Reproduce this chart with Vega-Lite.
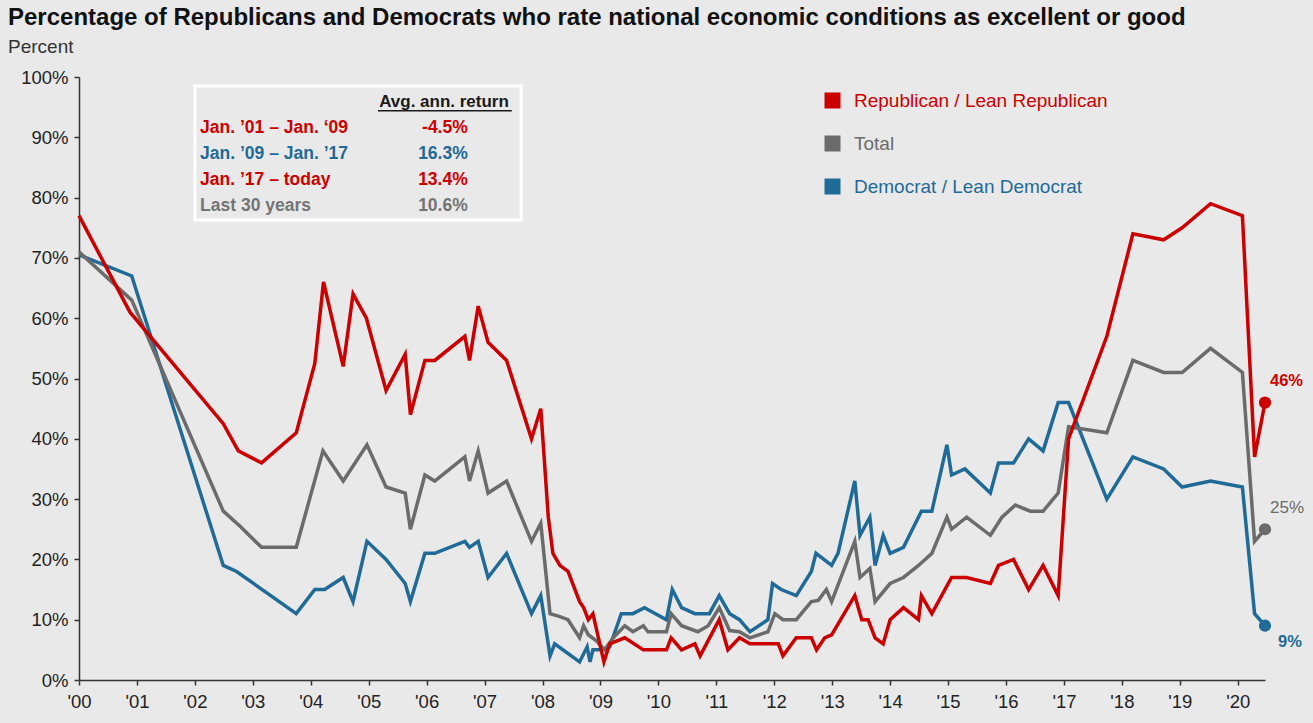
{
 "$schema": "https://vega.github.io/schema/vega-lite/v6.json",
 "width": 1186,
 "height": 603,
 "autosize": {"type": "none"},
 "padding": {"left": 79, "top": 77, "right": 48, "bottom": 43},
 "background": "#e9e9e9",
 "config": {"view": {"stroke": null}, "font": "Liberation Sans"},
 "title": {
  "text": "Percentage of Republicans and Democrats who rate national economic conditions as excellent or good",
  "subtitle": "Percent",
  "anchor": "start",
  "frame": "group",
  "dx": -71,
  "font": "Liberation Sans",
  "fontSize": 24,
  "fontWeight": "bold",
  "color": "#111111",
  "subtitleFont": "Liberation Sans",
  "subtitleFontSize": 19,
  "subtitleColor": "#333333",
  "subtitlePadding": 8,
  "offset": 11
 },
 "datasets": {
  "lines": [
   {"series": "Democrat / Lean Democrat", "date": 2000.00, "v": 70.5},
   {"series": "Democrat / Lean Democrat", "date": 2000.91, "v": 67},
   {"series": "Democrat / Lean Democrat", "date": 2002.49, "v": 19},
   {"series": "Democrat / Lean Democrat", "date": 2002.72, "v": 18},
   {"series": "Democrat / Lean Democrat", "date": 2003.75, "v": 11},
   {"series": "Democrat / Lean Democrat", "date": 2004.07, "v": 15},
   {"series": "Democrat / Lean Democrat", "date": 2004.24, "v": 15},
   {"series": "Democrat / Lean Democrat", "date": 2004.56, "v": 17},
   {"series": "Democrat / Lean Democrat", "date": 2004.73, "v": 13},
   {"series": "Democrat / Lean Democrat", "date": 2004.97, "v": 23},
   {"series": "Democrat / Lean Democrat", "date": 2005.30, "v": 20},
   {"series": "Democrat / Lean Democrat", "date": 2005.63, "v": 16},
   {"series": "Democrat / Lean Democrat", "date": 2005.72, "v": 13},
   {"series": "Democrat / Lean Democrat", "date": 2005.97, "v": 21},
   {"series": "Democrat / Lean Democrat", "date": 2006.14, "v": 21},
   {"series": "Democrat / Lean Democrat", "date": 2006.66, "v": 23},
   {"series": "Democrat / Lean Democrat", "date": 2006.74, "v": 22},
   {"series": "Democrat / Lean Democrat", "date": 2006.89, "v": 23},
   {"series": "Democrat / Lean Democrat", "date": 2007.06, "v": 17},
   {"series": "Democrat / Lean Democrat", "date": 2007.38, "v": 21},
   {"series": "Democrat / Lean Democrat", "date": 2007.81, "v": 11},
   {"series": "Democrat / Lean Democrat", "date": 2007.97, "v": 14},
   {"series": "Democrat / Lean Democrat", "date": 2008.13, "v": 4},
   {"series": "Democrat / Lean Democrat", "date": 2008.21, "v": 6},
   {"series": "Democrat / Lean Democrat", "date": 2008.64, "v": 3},
   {"series": "Democrat / Lean Democrat", "date": 2008.77, "v": 5.5},
   {"series": "Democrat / Lean Democrat", "date": 2008.82, "v": 3},
   {"series": "Democrat / Lean Democrat", "date": 2008.87, "v": 5},
   {"series": "Democrat / Lean Democrat", "date": 2008.99, "v": 5},
   {"series": "Democrat / Lean Democrat", "date": 2009.16, "v": 5.5},
   {"series": "Democrat / Lean Democrat", "date": 2009.36, "v": 11},
   {"series": "Democrat / Lean Democrat", "date": 2009.56, "v": 11},
   {"series": "Democrat / Lean Democrat", "date": 2009.76, "v": 12},
   {"series": "Democrat / Lean Democrat", "date": 2010.14, "v": 10},
   {"series": "Democrat / Lean Democrat", "date": 2010.24, "v": 15},
   {"series": "Democrat / Lean Democrat", "date": 2010.40, "v": 12},
   {"series": "Democrat / Lean Democrat", "date": 2010.63, "v": 11},
   {"series": "Democrat / Lean Democrat", "date": 2010.88, "v": 11},
   {"series": "Democrat / Lean Democrat", "date": 2011.05, "v": 14},
   {"series": "Democrat / Lean Democrat", "date": 2011.23, "v": 11},
   {"series": "Democrat / Lean Democrat", "date": 2011.40, "v": 10},
   {"series": "Democrat / Lean Democrat", "date": 2011.58, "v": 8},
   {"series": "Democrat / Lean Democrat", "date": 2011.89, "v": 10},
   {"series": "Democrat / Lean Democrat", "date": 2011.97, "v": 16},
   {"series": "Democrat / Lean Democrat", "date": 2012.12, "v": 15},
   {"series": "Democrat / Lean Democrat", "date": 2012.38, "v": 14},
   {"series": "Democrat / Lean Democrat", "date": 2012.64, "v": 18},
   {"series": "Democrat / Lean Democrat", "date": 2012.72, "v": 21},
   {"series": "Democrat / Lean Democrat", "date": 2012.99, "v": 19},
   {"series": "Democrat / Lean Democrat", "date": 2013.10, "v": 21},
   {"series": "Democrat / Lean Democrat", "date": 2013.39, "v": 33},
   {"series": "Democrat / Lean Democrat", "date": 2013.48, "v": 24},
   {"series": "Democrat / Lean Democrat", "date": 2013.65, "v": 27},
   {"series": "Democrat / Lean Democrat", "date": 2013.74, "v": 19},
   {"series": "Democrat / Lean Democrat", "date": 2013.88, "v": 24},
   {"series": "Democrat / Lean Democrat", "date": 2014.00, "v": 21},
   {"series": "Democrat / Lean Democrat", "date": 2014.23, "v": 22},
   {"series": "Democrat / Lean Democrat", "date": 2014.54, "v": 28},
   {"series": "Democrat / Lean Democrat", "date": 2014.72, "v": 28},
   {"series": "Democrat / Lean Democrat", "date": 2014.98, "v": 39},
   {"series": "Democrat / Lean Democrat", "date": 2015.06, "v": 34},
   {"series": "Democrat / Lean Democrat", "date": 2015.29, "v": 35},
   {"series": "Democrat / Lean Democrat", "date": 2015.73, "v": 31},
   {"series": "Democrat / Lean Democrat", "date": 2015.87, "v": 36},
   {"series": "Democrat / Lean Democrat", "date": 2016.13, "v": 36},
   {"series": "Democrat / Lean Democrat", "date": 2016.39, "v": 40},
   {"series": "Democrat / Lean Democrat", "date": 2016.64, "v": 38},
   {"series": "Democrat / Lean Democrat", "date": 2016.90, "v": 46},
   {"series": "Democrat / Lean Democrat", "date": 2017.08, "v": 46},
   {"series": "Democrat / Lean Democrat", "date": 2017.74, "v": 30},
   {"series": "Democrat / Lean Democrat", "date": 2018.19, "v": 37},
   {"series": "Democrat / Lean Democrat", "date": 2018.72, "v": 35},
   {"series": "Democrat / Lean Democrat", "date": 2019.04, "v": 32},
   {"series": "Democrat / Lean Democrat", "date": 2019.53, "v": 33},
   {"series": "Democrat / Lean Democrat", "date": 2020.08, "v": 32},
   {"series": "Democrat / Lean Democrat", "date": 2020.29, "v": 11},
   {"series": "Democrat / Lean Democrat", "date": 2020.47, "v": 9},

   {"series": "Total", "date": 2000.00, "v": 71},
   {"series": "Total", "date": 2000.91, "v": 63},
   {"series": "Total", "date": 2002.49, "v": 28},
   {"series": "Total", "date": 2002.78, "v": 25.5},
   {"series": "Total", "date": 2003.15, "v": 22},
   {"series": "Total", "date": 2003.75, "v": 22},
   {"series": "Total", "date": 2004.21, "v": 38},
   {"series": "Total", "date": 2004.56, "v": 33},
   {"series": "Total", "date": 2004.97, "v": 39},
   {"series": "Total", "date": 2005.30, "v": 32},
   {"series": "Total", "date": 2005.63, "v": 31},
   {"series": "Total", "date": 2005.72, "v": 25},
   {"series": "Total", "date": 2005.97, "v": 34},
   {"series": "Total", "date": 2006.14, "v": 33},
   {"series": "Total", "date": 2006.66, "v": 37},
   {"series": "Total", "date": 2006.74, "v": 33},
   {"series": "Total", "date": 2006.89, "v": 38},
   {"series": "Total", "date": 2007.06, "v": 31},
   {"series": "Total", "date": 2007.38, "v": 33},
   {"series": "Total", "date": 2007.81, "v": 23},
   {"series": "Total", "date": 2007.97, "v": 26},
   {"series": "Total", "date": 2008.13, "v": 11},
   {"series": "Total", "date": 2008.30, "v": 10.5},
   {"series": "Total", "date": 2008.44, "v": 10},
   {"series": "Total", "date": 2008.64, "v": 7},
   {"series": "Total", "date": 2008.71, "v": 9},
   {"series": "Total", "date": 2008.79, "v": 7.5},
   {"series": "Total", "date": 2008.93, "v": 6.5},
   {"series": "Total", "date": 2009.07, "v": 5},
   {"series": "Total", "date": 2009.22, "v": 7},
   {"series": "Total", "date": 2009.42, "v": 9},
   {"series": "Total", "date": 2009.56, "v": 8},
   {"series": "Total", "date": 2009.74, "v": 9},
   {"series": "Total", "date": 2009.82, "v": 8},
   {"series": "Total", "date": 2010.14, "v": 8},
   {"series": "Total", "date": 2010.22, "v": 11},
   {"series": "Total", "date": 2010.40, "v": 9},
   {"series": "Total", "date": 2010.68, "v": 8},
   {"series": "Total", "date": 2010.86, "v": 9},
   {"series": "Total", "date": 2011.05, "v": 12},
   {"series": "Total", "date": 2011.23, "v": 8.2},
   {"series": "Total", "date": 2011.40, "v": 8},
   {"series": "Total", "date": 2011.58, "v": 7},
   {"series": "Total", "date": 2011.89, "v": 8},
   {"series": "Total", "date": 2012.01, "v": 11},
   {"series": "Total", "date": 2012.15, "v": 10},
   {"series": "Total", "date": 2012.38, "v": 10},
   {"series": "Total", "date": 2012.64, "v": 13},
   {"series": "Total", "date": 2012.76, "v": 13.2},
   {"series": "Total", "date": 2012.90, "v": 15},
   {"series": "Total", "date": 2012.99, "v": 13},
   {"series": "Total", "date": 2013.39, "v": 23},
   {"series": "Total", "date": 2013.48, "v": 17},
   {"series": "Total", "date": 2013.65, "v": 18.5},
   {"series": "Total", "date": 2013.74, "v": 13},
   {"series": "Total", "date": 2014.00, "v": 16},
   {"series": "Total", "date": 2014.23, "v": 17},
   {"series": "Total", "date": 2014.49, "v": 19},
   {"series": "Total", "date": 2014.72, "v": 21},
   {"series": "Total", "date": 2014.98, "v": 27},
   {"series": "Total", "date": 2015.06, "v": 25},
   {"series": "Total", "date": 2015.32, "v": 27},
   {"series": "Total", "date": 2015.73, "v": 24},
   {"series": "Total", "date": 2015.93, "v": 27},
   {"series": "Total", "date": 2016.16, "v": 29},
   {"series": "Total", "date": 2016.42, "v": 28},
   {"series": "Total", "date": 2016.64, "v": 28},
   {"series": "Total", "date": 2016.90, "v": 31},
   {"series": "Total", "date": 2017.08, "v": 42},
   {"series": "Total", "date": 2017.74, "v": 41},
   {"series": "Total", "date": 2018.19, "v": 53},
   {"series": "Total", "date": 2018.72, "v": 51},
   {"series": "Total", "date": 2019.04, "v": 51},
   {"series": "Total", "date": 2019.53, "v": 55},
   {"series": "Total", "date": 2020.08, "v": 51},
   {"series": "Total", "date": 2020.29, "v": 23},
   {"series": "Total", "date": 2020.47, "v": 25},

   {"series": "Republican / Lean Republican", "date": 2000.00, "v": 77},
   {"series": "Republican / Lean Republican", "date": 2000.88, "v": 61},
   {"series": "Republican / Lean Republican", "date": 2002.49, "v": 42.5},
   {"series": "Republican / Lean Republican", "date": 2002.75, "v": 38},
   {"series": "Republican / Lean Republican", "date": 2003.15, "v": 36},
   {"series": "Republican / Lean Republican", "date": 2003.75, "v": 41},
   {"series": "Republican / Lean Republican", "date": 2004.07, "v": 52.5},
   {"series": "Republican / Lean Republican", "date": 2004.22, "v": 66},
   {"series": "Republican / Lean Republican", "date": 2004.56, "v": 52},
   {"series": "Republican / Lean Republican", "date": 2004.73, "v": 64},
   {"series": "Republican / Lean Republican", "date": 2004.96, "v": 60},
   {"series": "Republican / Lean Republican", "date": 2005.30, "v": 48},
   {"series": "Republican / Lean Republican", "date": 2005.63, "v": 54},
   {"series": "Republican / Lean Republican", "date": 2005.72, "v": 44},
   {"series": "Republican / Lean Republican", "date": 2005.97, "v": 53},
   {"series": "Republican / Lean Republican", "date": 2006.14, "v": 53},
   {"series": "Republican / Lean Republican", "date": 2006.66, "v": 57},
   {"series": "Republican / Lean Republican", "date": 2006.74, "v": 53},
   {"series": "Republican / Lean Republican", "date": 2006.89, "v": 62},
   {"series": "Republican / Lean Republican", "date": 2007.06, "v": 56},
   {"series": "Republican / Lean Republican", "date": 2007.38, "v": 53},
   {"series": "Republican / Lean Republican", "date": 2007.81, "v": 40},
   {"series": "Republican / Lean Republican", "date": 2007.97, "v": 45},
   {"series": "Republican / Lean Republican", "date": 2008.10, "v": 27},
   {"series": "Republican / Lean Republican", "date": 2008.18, "v": 21},
   {"series": "Republican / Lean Republican", "date": 2008.30, "v": 19},
   {"series": "Republican / Lean Republican", "date": 2008.44, "v": 18},
   {"series": "Republican / Lean Republican", "date": 2008.64, "v": 13},
   {"series": "Republican / Lean Republican", "date": 2008.71, "v": 12},
   {"series": "Republican / Lean Republican", "date": 2008.79, "v": 10},
   {"series": "Republican / Lean Republican", "date": 2008.87, "v": 11},
   {"series": "Republican / Lean Republican", "date": 2009.06, "v": 3},
   {"series": "Republican / Lean Republican", "date": 2009.16, "v": 6},
   {"series": "Republican / Lean Republican", "date": 2009.42, "v": 7},
   {"series": "Republican / Lean Republican", "date": 2009.74, "v": 5},
   {"series": "Republican / Lean Republican", "date": 2010.14, "v": 5},
   {"series": "Republican / Lean Republican", "date": 2010.22, "v": 7},
   {"series": "Republican / Lean Republican", "date": 2010.40, "v": 5},
   {"series": "Republican / Lean Republican", "date": 2010.63, "v": 6},
   {"series": "Republican / Lean Republican", "date": 2010.72, "v": 4},
   {"series": "Republican / Lean Republican", "date": 2011.05, "v": 10},
   {"series": "Republican / Lean Republican", "date": 2011.20, "v": 5},
   {"series": "Republican / Lean Republican", "date": 2011.40, "v": 7},
   {"series": "Republican / Lean Republican", "date": 2011.58, "v": 6},
   {"series": "Republican / Lean Republican", "date": 2012.07, "v": 6},
   {"series": "Republican / Lean Republican", "date": 2012.15, "v": 4},
   {"series": "Republican / Lean Republican", "date": 2012.38, "v": 7},
   {"series": "Republican / Lean Republican", "date": 2012.64, "v": 7},
   {"series": "Republican / Lean Republican", "date": 2012.73, "v": 5},
   {"series": "Republican / Lean Republican", "date": 2012.87, "v": 7},
   {"series": "Republican / Lean Republican", "date": 2012.99, "v": 7.5},
   {"series": "Republican / Lean Republican", "date": 2013.39, "v": 14},
   {"series": "Republican / Lean Republican", "date": 2013.51, "v": 10},
   {"series": "Republican / Lean Republican", "date": 2013.62, "v": 10},
   {"series": "Republican / Lean Republican", "date": 2013.74, "v": 7},
   {"series": "Republican / Lean Republican", "date": 2013.88, "v": 6},
   {"series": "Republican / Lean Republican", "date": 2014.00, "v": 10},
   {"series": "Republican / Lean Republican", "date": 2014.23, "v": 12},
   {"series": "Republican / Lean Republican", "date": 2014.49, "v": 10},
   {"series": "Republican / Lean Republican", "date": 2014.54, "v": 14},
   {"series": "Republican / Lean Republican", "date": 2014.72, "v": 11},
   {"series": "Republican / Lean Republican", "date": 2015.06, "v": 17},
   {"series": "Republican / Lean Republican", "date": 2015.32, "v": 17},
   {"series": "Republican / Lean Republican", "date": 2015.73, "v": 16},
   {"series": "Republican / Lean Republican", "date": 2015.87, "v": 19},
   {"series": "Republican / Lean Republican", "date": 2016.13, "v": 20},
   {"series": "Republican / Lean Republican", "date": 2016.39, "v": 15},
   {"series": "Republican / Lean Republican", "date": 2016.64, "v": 19},
   {"series": "Republican / Lean Republican", "date": 2016.90, "v": 14},
   {"series": "Republican / Lean Republican", "date": 2017.08, "v": 40},
   {"series": "Republican / Lean Republican", "date": 2017.74, "v": 57},
   {"series": "Republican / Lean Republican", "date": 2018.19, "v": 74},
   {"series": "Republican / Lean Republican", "date": 2018.72, "v": 73},
   {"series": "Republican / Lean Republican", "date": 2019.04, "v": 75},
   {"series": "Republican / Lean Republican", "date": 2019.53, "v": 79},
   {"series": "Republican / Lean Republican", "date": 2020.08, "v": 77},
   {"series": "Republican / Lean Republican", "date": 2020.29, "v": 37},
   {"series": "Republican / Lean Republican", "date": 2020.47, "v": 46}
  ],
  "table": [
   {"row": 1, "period": "Jan. ’01 – Jan. ‘09", "ret": "-4.5%"},
   {"row": 2, "period": "Jan. ’09 – Jan. ’17", "ret": "16.3%"},
   {"row": 3, "period": "Jan. ’17 – today", "ret": "13.4%"},
   {"row": 4, "period": "Last 30 years", "ret": "10.6%"}
  ]
 },
 "layer": [
  {
   "data": {"values": [{}]},
   "mark": {"type": "rect", "filled": false, "stroke": "#ffffff", "strokeWidth": 3},
   "encoding": {
    "x": {"datum": 2002.0, "type": "quantitative"},
    "x2": {"datum": 2007.63},
    "y": {"datum": 98.5, "type": "quantitative"},
    "y2": {"datum": 76.3}
   }
  },
  {
   "data": {"values": [{"h": "Avg. ann. return"}]},
   "mark": {"type": "text", "align": "center", "baseline": "middle", "fontSize": 17, "fontWeight": "bold", "color": "#1a1a1a", "font": "Liberation Sans"},
   "encoding": {
    "x": {"datum": 2006.30, "type": "quantitative"},
    "y": {"datum": 95.9, "type": "quantitative"},
    "text": {"field": "h"}
   }
  },
  {
   "data": {"values": [{}]},
   "mark": {"type": "rule", "color": "#1a1a1a", "strokeWidth": 1.3},
   "encoding": {
    "x": {"datum": 2005.16, "type": "quantitative"},
    "x2": {"datum": 2007.47},
    "y": {"datum": 94.4, "type": "quantitative"}
   }
  },
  {
   "data": {"name": "table"},
   "transform": [{"filter": "datum.row == 1"}],
   "layer": [
    {"mark": {"type": "text", "align": "left", "baseline": "middle", "fontSize": 17.5, "fontWeight": "bold", "color": "#cc0000", "font": "Liberation Sans"},
     "encoding": {"x": {"datum": 2002.09, "type": "quantitative"}, "y": {"datum": 91.5, "type": "quantitative"}, "text": {"field": "period"}}},
    {"mark": {"type": "text", "align": "right", "baseline": "middle", "fontSize": 17.5, "fontWeight": "bold", "color": "#cc0000", "font": "Liberation Sans"},
     "encoding": {"x": {"datum": 2006.71, "type": "quantitative"}, "y": {"datum": 91.5, "type": "quantitative"}, "text": {"field": "ret"}}}
   ]
  },
  {
   "data": {"name": "table"},
   "transform": [{"filter": "datum.row == 2"}],
   "layer": [
    {"mark": {"type": "text", "align": "left", "baseline": "middle", "fontSize": 17.5, "fontWeight": "bold", "color": "#1f6a96", "font": "Liberation Sans"},
     "encoding": {"x": {"datum": 2002.09, "type": "quantitative"}, "y": {"datum": 87.2, "type": "quantitative"}, "text": {"field": "period"}}},
    {"mark": {"type": "text", "align": "right", "baseline": "middle", "fontSize": 17.5, "fontWeight": "bold", "color": "#1f6a96", "font": "Liberation Sans"},
     "encoding": {"x": {"datum": 2006.71, "type": "quantitative"}, "y": {"datum": 87.2, "type": "quantitative"}, "text": {"field": "ret"}}}
   ]
  },
  {
   "data": {"name": "table"},
   "transform": [{"filter": "datum.row == 3"}],
   "layer": [
    {"mark": {"type": "text", "align": "left", "baseline": "middle", "fontSize": 17.5, "fontWeight": "bold", "color": "#cc0000", "font": "Liberation Sans"},
     "encoding": {"x": {"datum": 2002.09, "type": "quantitative"}, "y": {"datum": 82.9, "type": "quantitative"}, "text": {"field": "period"}}},
    {"mark": {"type": "text", "align": "right", "baseline": "middle", "fontSize": 17.5, "fontWeight": "bold", "color": "#cc0000", "font": "Liberation Sans"},
     "encoding": {"x": {"datum": 2006.71, "type": "quantitative"}, "y": {"datum": 82.9, "type": "quantitative"}, "text": {"field": "ret"}}}
   ]
  },
  {
   "data": {"name": "table"},
   "transform": [{"filter": "datum.row == 4"}],
   "layer": [
    {"mark": {"type": "text", "align": "left", "baseline": "middle", "fontSize": 17.5, "fontWeight": "bold", "color": "#747474", "font": "Liberation Sans"},
     "encoding": {"x": {"datum": 2002.09, "type": "quantitative"}, "y": {"datum": 78.6, "type": "quantitative"}, "text": {"field": "period"}}},
    {"mark": {"type": "text", "align": "right", "baseline": "middle", "fontSize": 17.5, "fontWeight": "bold", "color": "#747474", "font": "Liberation Sans"},
     "encoding": {"x": {"datum": 2006.71, "type": "quantitative"}, "y": {"datum": 78.6, "type": "quantitative"}, "text": {"field": "ret"}}}
   ]
  },
  {
   "data": {"name": "lines"},
   "mark": {"type": "line", "strokeWidth": 3.5, "strokeJoin": "miter"},
   "encoding": {
    "x": {
     "field": "date", "type": "quantitative",
     "scale": {"domain": [2000, 2020.47], "nice": false, "zero": false},
     "axis": {
      "title": null, "grid": false,
      "values": [2000, 2001, 2002, 2003, 2004, 2005, 2006, 2007, 2008, 2009, 2010, 2011, 2012, 2013, 2014, 2015, 2016, 2017, 2018, 2019, 2020],
      "labelExpr": "\"'\" + substring(toString(datum.value), 2, 4)",
      "labelFont": "Liberation Sans", "labelFontSize": 18.5, "labelColor": "#222222",
      "labelPadding": 7, "tickSize": 5, "tickColor": "#333333", "tickWidth": 1.5,
      "domainColor": "#333333", "domainWidth": 1.5, "labelFlush": false
     }
    },
    "y": {
     "field": "v", "type": "quantitative",
     "scale": {"domain": [0, 100], "nice": false},
     "axis": {
      "title": null, "grid": false,
      "values": [0, 10, 20, 30, 40, 50, 60, 70, 80, 90, 100],
      "labelExpr": "datum.value + '%'",
      "labelFont": "Liberation Sans", "labelFontSize": 18.5, "labelColor": "#222222",
      "labelPadding": 6, "tickSize": 5, "tickColor": "#333333", "tickWidth": 1.5,
      "domainColor": "#333333", "domainWidth": 1.5, "labelFlush": false
     }
    },
    "color": {
     "field": "series", "type": "nominal",
     "scale": {
      "domain": ["Republican / Lean Republican", "Total", "Democrat / Lean Democrat"],
      "range": ["#cc0000", "#6b6b6b", "#1f6a96"]
     },
     "legend": {
      "orient": "none", "legendX": 744, "legendY": 14, "title": null,
      "symbolType": "square", "symbolSize": 256, "symbolStrokeWidth": 0,
      "labelFont": "Liberation Sans", "labelFontSize": 19, "labelOffset": 12, "labelLimit": 500,
      "rowPadding": 23, "padding": 0,
      "encode": {
       "labels": {"update": {"fill": {"scale": "color", "field": "value"}}},
       "symbols": {"update": {"fill": {"scale": "color", "field": "value"}, "fillOpacity": {"value": 1}, "strokeWidth": {"value": 0}}}
      }
     }
    }
   }
  },
  {
   "data": {"name": "lines"},
   "transform": [{"filter": "datum.date > 2020.4"}],
   "mark": {"type": "circle", "size": 150, "opacity": 1},
   "encoding": {
    "x": {"field": "date", "type": "quantitative"},
    "y": {"field": "v", "type": "quantitative"},
    "color": {"field": "series", "type": "nominal", "legend": null}
   }
  },
  {
   "data": {"name": "lines"},
   "transform": [{"filter": "datum.date > 2020.4 && datum.series == 'Republican / Lean Republican'"}, {"calculate": "format(datum.v, 'd') + '%'", "as": "lbl"}],
   "mark": {"type": "text", "align": "left", "baseline": "middle", "dx": 5, "dy": -22, "fontSize": 16.5, "fontWeight": "bold", "color": "#cc0000", "font": "Liberation Sans"},
   "encoding": {
    "x": {"field": "date", "type": "quantitative"},
    "y": {"field": "v", "type": "quantitative"},
    "text": {"field": "lbl"}
   }
  },
  {
   "data": {"name": "lines"},
   "transform": [{"filter": "datum.date > 2020.4 && datum.series == 'Total'"}, {"calculate": "format(datum.v, 'd') + '%'", "as": "lbl"}],
   "mark": {"type": "text", "align": "left", "baseline": "middle", "dx": 5, "dy": -21, "fontSize": 17, "fontWeight": "normal", "color": "#6b6b6b", "font": "Liberation Sans"},
   "encoding": {
    "x": {"field": "date", "type": "quantitative"},
    "y": {"field": "v", "type": "quantitative"},
    "text": {"field": "lbl"}
   }
  },
  {
   "data": {"name": "lines"},
   "transform": [{"filter": "datum.date > 2020.4 && datum.series == 'Democrat / Lean Democrat'"}, {"calculate": "format(datum.v, 'd') + '%'", "as": "lbl"}],
   "mark": {"type": "text", "align": "left", "baseline": "middle", "dx": 13, "dy": 16, "fontSize": 16.5, "fontWeight": "bold", "color": "#1f6a96", "font": "Liberation Sans"},
   "encoding": {
    "x": {"field": "date", "type": "quantitative"},
    "y": {"field": "v", "type": "quantitative"},
    "text": {"field": "lbl"}
   }
  }
 ]
}
